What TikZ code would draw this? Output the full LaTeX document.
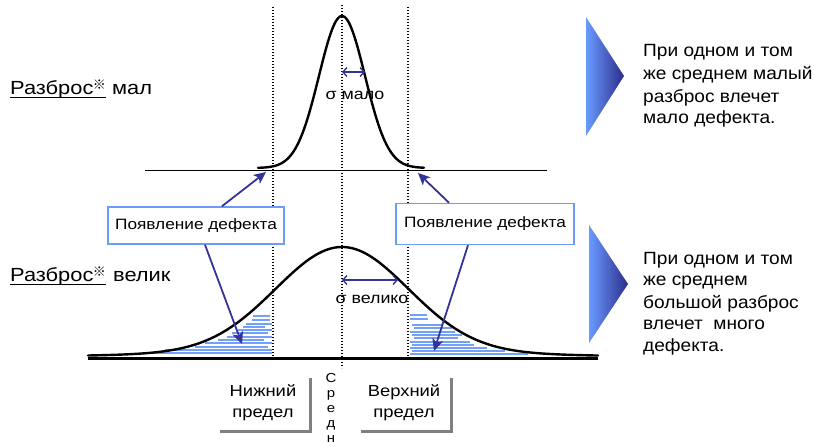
\documentclass[tikz,border=0pt]{standalone}
\usepackage{fontspec}
\setmainfont{Liberation Sans}[FakeStretch=1.15]
\newfontfamily\sidefont{Liberation Sans}[FakeStretch=1.08]
\newfontfamily\cjk{Noto Sans CJK JP}
\usetikzlibrary{arrows.meta,calc}
\definecolor{arrowblue}{RGB}{51,51,153}
\definecolor{barblue}{RGB}{115,160,250}
\definecolor{boxblue}{RGB}{110,155,250}
\definecolor{triA}{RGB}{105,155,255}
\definecolor{triB}{RGB}{45,45,140}
\definecolor{shadowgray}{RGB}{128,128,128}
\tikzset{
  curve/.style={line width=2.4pt, black, line join=round, line cap=round},
  dotline/.style={line width=1.1pt, dash pattern=on 1.1pt off 1.9pt},
  histbar/.style={barblue, line width=1.2pt},
  defbox/.style={draw=boxblue, line width=1.5pt, fill=white, inner sep=0pt,
    font=\fontsize{15}{18}\selectfont},
  defarrow/.style={arrowblue, line width=1.8pt, -{Stealth[length=12pt,width=11pt,inset=3pt]}},
  sigarrow/.style={arrowblue, line width=1.4pt,
    {Straight Barb[length=4pt,width=9pt]}-{Straight Barb[length=4pt,width=9pt]}},
  bigtext/.style={anchor=base west, inner sep=0pt, font=\fontsize{19}{23}\selectfont},
  sidetext/.style={anchor=base west, inner sep=0pt, font=\sidefont\fontsize{17.7}{23}\selectfont},
  sigtext/.style={inner sep=0pt, font=\fontsize{15.5}{18}\selectfont},
  limbox/.style={inner sep=0pt, minimum width=90pt, minimum height=53pt, align=center,
    font=\fontsize{16}{21}\selectfont},
  shadowline/.style={shadowgray, line width=3pt}
}
\newcommand{\refmk}{\kern-0.5pt\raisebox{0.3em}{\fontsize{13}{13}\selectfont\cjk ※}}
\begin{document}
\begin{tikzpicture}[x=1pt,y=-1pt]
\useasboundingbox (0,0) rectangle (814,446);

% histogram bars (defect areas)
\foreach \yy/\xa/\xb in {316/253/270, 320/252/270, 324/246/272, 327/243/265,
  330/238/272, 333/232/268, 337/227/272, 340/218/264, 343/205/272, 347/195/268,
  350/165/272, 353/148/272}
  \draw[histbar] (\xa,\yy) -- (\xb,\yy);
\foreach \yy/\xa/\xb in {315/410/427, 319/410/428, 325/412/442, 328/414/452,
  332/410/455, 335/412/462, 338/414/458, 342/410/470, 345/412/474, 348/410/487,
  351/412/505, 354/410/528}
  \draw[histbar] (\xa,\yy) -- (\xb,\yy);

% axes lines
\draw[line width=1pt] (145,171) -- (547,171);
\draw[line width=3pt] (88,358) -- (598,358);

% dotted guide lines
\draw[dotline] (273,7) -- (273,358);
\draw[dotline] (342,5) -- (342,368);
\draw[dotline] (408,7) -- (408,358);

% curves
\draw[curve] plot[domain=258:424, samples=120]
  (\x, {168 - 152*exp(-((\x-342)/23)^2/2)});
\draw[curve] plot[domain=88:598, samples=160]
  (\x, {357 - 104*exp(-((\x-342)/66)^2/2) - 6*exp(-((\x-342)/150)^2/2)});

% sigma arrows
\coordinate (s1a) at (342,72);
\coordinate (s1b) at (365,72);
\draw[sigarrow] (s1a) -- (s1b);
\node[sigtext] (s1t) at (355,95) {σ мало};
\coordinate (s2a) at (342,280);
\coordinate (s2b) at (398,280);
\draw[sigarrow] (s2a) -- (s2b);
\node[sigtext] (s2t) at (372,299) {σ велико};

% left labels
\node[bigtext] (lab1) at (10,95) {Разброс\refmk};
\node[bigtext] (lab1b) at (112,95) {мал};
\draw[line width=1.2pt] ([yshift=-2.3pt]lab1.base west) -- ([yshift=-2.3pt]lab1.base east);
\node[bigtext] (lab2) at (10,282) {Разброс\refmk};
\node[bigtext] (lab2b) at (113,282) {велик};
\draw[line width=1.2pt] ([yshift=-2.3pt]lab2.base west) -- ([yshift=-2.3pt]lab2.base east);

% defect boxes
\node[defbox, minimum width=176pt, minimum height=37pt] (d1) at (196,225.5) {Появление дефекта};
\node[defbox, minimum width=178pt, minimum height=41pt] (d2) at (485,224) {Появление дефекта};
\coordinate (t1) at (266,172);
\coordinate (t2) at (242,344);
\coordinate (t3) at (418,173);
\coordinate (t4) at (434,351);
\draw[defarrow] ([xshift=26pt]d1.north) -- (t1);
\draw[defarrow] ([xshift=9pt]d1.south) -- (t2);
\draw[defarrow] ([xshift=-36pt]d2.north) -- (t3);
\draw[defarrow] ([xshift=-17pt]d2.south) -- (t4);

% gradient triangles
\shade[left color=triA, right color=triB] (586,17) -- (624,76) -- (586,136) -- cycle;
\shade[left color=triA, right color=triB] (589,225) -- (628,284) -- (589,343) -- cycle;

% side texts
\node[sidetext] (r1) at (643,56.5) {При одном и том};
\node[sidetext] (r2) at (643,79.3) {же среднем малый};
\node[sidetext] (r3) at (643,102.5) {разброс влечет};
\node[sidetext] (r4) at (643,124) {мало дефекта.};
\node[sidetext] (q1) at (643,264.3) {При одном и том};
\node[sidetext] (q2) at (643,286) {же среднем};
\node[sidetext] (q3) at (643,308.3) {большой разброс};
\node[sidetext] (q4) at (643,330) {влечет~ много};
\node[sidetext] (q5) at (643,351.7) {дефекта.};

% limit boxes
\node[limbox] (lo) at (263,402.5) {Нижний\\предел};
\draw[shadowline] ($(lo.south west)+(2,2)$) -- ($(lo.south east)+(2,2)$) -- ($(lo.north east)+(2,2)$);
\node[limbox] (hi) at (404,403) {Верхний\\предел};
\draw[shadowline] ($(hi.south west)+(2,2)$) -- ($(hi.south east)+(2,2)$) -- ($(hi.north east)+(2,2)$);
\node[inner sep=0pt, align=center, font=\fontsize{13}{14.8}\selectfont] (mid) at (331,408) {С\\р\\е\\д\\н};
\end{tikzpicture}
\end{document}
